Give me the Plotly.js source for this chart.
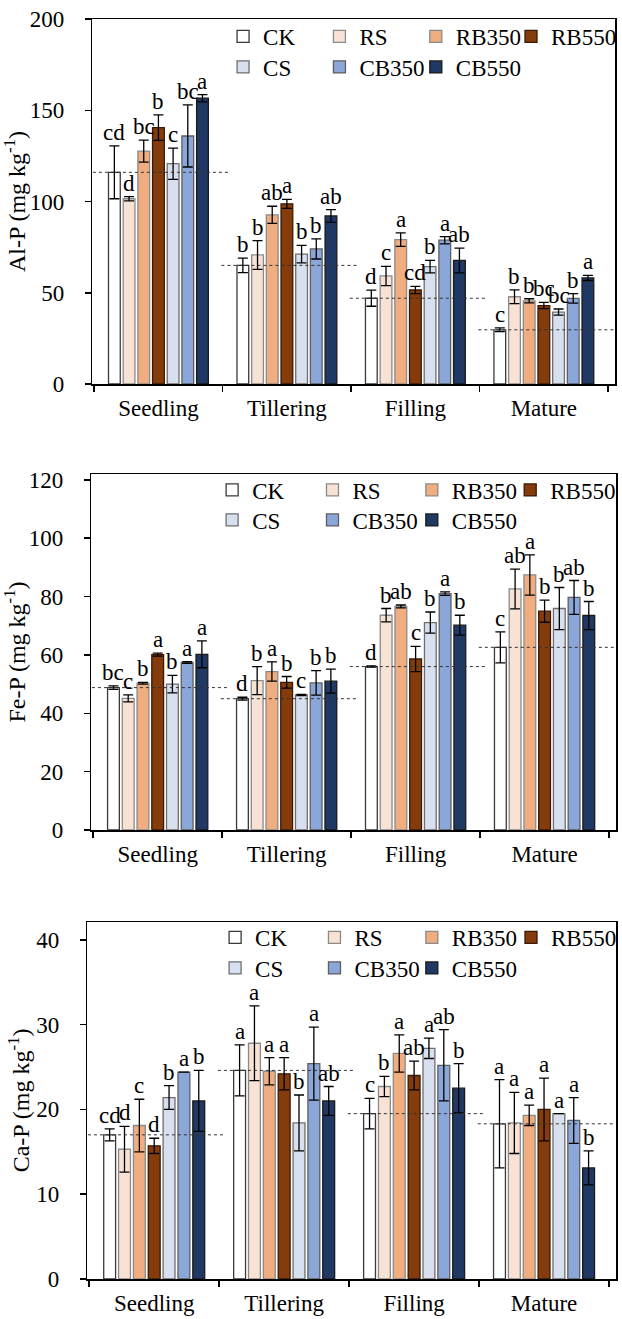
<!DOCTYPE html>
<html>
<head>
<meta charset="utf-8">
<script src="https://cdn.plot.ly/plotly-3.0.1.min.js"></script>
<style>html,body{margin:0;padding:0;background:#fff;}#chart{width:622px;height:1319px;}</style>
</head>
<body>
<div id="chart"></div>
<script>
// ---------- data ----------
const stages = ['Seedling', 'Tillering', 'Filling', 'Mature'];
const treatments = ['CK', 'RS', 'RB350', 'RB550', 'CS', 'CB350', 'CB550'];

// Al-P (mg kg-1): rows = treatments, columns = stages
const alpMean = [
  [116.0, 65.0, 47.0, 29.7],
  [101.5, 70.7, 59.2, 47.8],
  [127.6, 92.7, 79.1, 45.6],
  [140.5, 98.7, 51.5, 43.0],
  [120.7, 71.2, 64.3, 39.4],
  [135.9, 74.0, 78.8, 46.9],
  [156.6, 92.1, 67.7, 58.1]
];
const alpErr = [
  [14.5, 4.0, 4.4, 1.0],
  [1.2, 7.9, 5.3, 3.8],
  [6.0, 4.7, 3.7, 1.1],
  [7.0, 2.5, 2.0, 1.7],
  [8.6, 4.8, 3.4, 1.7],
  [17.0, 5.5, 2.0, 2.6],
  [2.0, 3.5, 6.8, 1.4]
];
const alpLetters = [
  ['cd', 'b', 'd', 'c'],
  ['d', 'b', 'c', 'b'],
  ['bc', 'ab', 'a', 'b'],
  ['b', 'a', 'cd', 'bc'],
  ['c', 'b', 'b', 'bc'],
  ['bc', 'b', 'a', 'b'],
  ['a', 'ab', 'ab', 'a']
];

// Fe-P (mg kg-1)
const fepMean = [
  [48.8, 45.0, 56.0, 62.6],
  [45.1, 51.2, 73.6, 82.6],
  [50.3, 54.3, 76.6, 87.4],
  [60.1, 50.6, 58.6, 75.0],
  [50.0, 46.3, 71.1, 75.9],
  [57.4, 50.4, 81.0, 79.7],
  [60.2, 51.0, 70.2, 73.5]
];
const fepErr = [
  [0.6, 0.5, 0.2, 5.3],
  [1.2, 4.8, 2.3, 6.8],
  [0.3, 3.3, 0.5, 6.9],
  [0.5, 2.0, 4.3, 3.8],
  [3.0, 0.2, 3.6, 7.2],
  [0.3, 4.2, 0.6, 5.8],
  [4.6, 4.1, 3.4, 4.8]
];
const fepLetters = [
  ['bc', 'd', 'd', 'c'],
  ['c', 'b', 'b', 'ab'],
  ['b', 'a', 'ab', 'a'],
  ['a', 'b', 'c', 'b'],
  ['b', 'c', 'b', 'b'],
  ['a', 'b', 'a', 'ab'],
  ['a', 'b', 'b', 'b']
];

// Ca-P (mg kg-1)
const capMean = [
  [17.0, 24.6, 19.5, 18.3],
  [15.3, 27.8, 22.7, 18.4],
  [18.1, 24.5, 26.6, 19.3],
  [15.7, 24.2, 24.0, 20.0],
  [21.4, 18.4, 27.2, 19.5],
  [24.4, 25.4, 25.2, 18.7],
  [21.0, 21.0, 22.5, 13.1]
];
const capErr = [
  [0.7, 3.0, 1.8, 5.2],
  [2.7, 4.4, 1.2, 3.6],
  [3.1, 1.6, 2.2, 1.2],
  [0.9, 1.9, 1.7, 3.7],
  [1.4, 3.3, 1.2, 0.0],
  [0.0, 4.3, 4.2, 2.7],
  [3.6, 1.7, 2.9, 2.0]
];
const capLetters = [
  ['cd', 'a', 'c', 'a'],
  ['d', 'a', 'b', 'a'],
  ['c', 'a', 'a', 'a'],
  ['d', 'a', 'ab', 'a'],
  ['b', 'b', 'a', 'a'],
  ['a', 'a', 'ab', 'a'],
  ['b', 'ab', 'b', 'b']
];

const yTitles = ['Al-P (mg kg<sup>-1</sup>)', 'Fe-P (mg kg<sup>-1</sup>)', 'Ca-P (mg kg<sup>-1</sup>)'];

// ---------- styling ----------
const fillColors = ['#FFFFFF', '#F8E2D3', '#F0AD80', '#843C0C', '#D8DFEF', '#8BA7D9', '#203864'];
const lineColors = ['#3A3A3A', '#8A8A8A', '#8A8A8A', '#3A1A05', '#6E6E6E', '#5E5E5E', '#1A1A1A'];
const FONT = '"Liberation Serif", "Times New Roman", serif';
const FS = 23;
const W = 622, H = 1319;

const panels = [
  {mean: alpMean, err: alpErr, letters: alpLetters, range: [0, 200], dtick: 50,
   px: [93, 619], py: [19, 384],
   legX: [243, 340, 437, 533, 243, 340, 437], legY: [36.5, 67]},
  {mean: fepMean, err: fepErr, letters: fepLetters, range: [0, 122], dtick: 20,
   px: [92, 620], py: [474, 830],
   legX: [232, 333, 433, 532, 232, 333, 433], legY: [490, 520]},
  {mean: capMean, err: capErr, letters: capLetters, range: [0, 42.1], dtick: 10,
   px: [88, 620], py: [922, 1279],
   legX: [235, 335, 433, 533, 235, 335, 433], legY: [937.5, 968]}
];

const traces = [];
const annotations = [];
const shapes = [];
const layout = {
  width: W, height: H,
  margin: {l: 0, r: 0, t: 0, b: 0},
  paper_bgcolor: '#fff', plot_bgcolor: '#fff',
  font: {family: FONT, size: FS, color: '#000'},
  barmode: 'group', bargap: 0.2, bargroupgap: 0.2,
  hovermode: false, showlegend: true,
  annotations: annotations, shapes: shapes
};

panels.forEach((p, k) => {
  const sfx = k === 0 ? '' : String(k + 1);
  const xa = 'x' + sfx, ya = 'y' + sfx;

  treatments.forEach((t, j) => {
    const li = k * treatments.length + j + 1;
    const legName = li === 1 ? 'legend' : 'legend' + li;
    traces.push({
      type: 'bar', name: t, x: stages, y: p.mean[j],
      xaxis: xa, yaxis: ya,
      legend: legName, showlegend: true,
      marker: {color: fillColors[j], line: {color: lineColors[j], width: 1.3}},
      error_y: {type: 'data', array: p.err[j], visible: true, color: '#000', thickness: 1.3, width: 5}
    });
    layout[legName] = {
      visible: true,
      orientation: 'h', xanchor: 'left', yanchor: 'middle',
      x: (p.legX[j] - 18.5) / W, y: (H - p.legY[j < 4 ? 0 : 1]) / H,
      bgcolor: 'rgba(0,0,0,0)', borderwidth: 0,
      font: {family: FONT, size: FS, color: '#000'}
    };
    stages.forEach((s, i) => {
      annotations.push({
        xref: xa, yref: ya,
        x: i - 0.4 + (j + 0.5) * 0.8 / treatments.length,
        y: p.mean[j][i] + p.err[j][i],
        text: p.letters[j][i], showarrow: false,
        xanchor: 'center', yanchor: 'bottom', yshift: -1,
        font: {family: FONT, size: FS, color: '#000'}
      });
    });
  });

  // reference lines at CK level
  stages.forEach((s, i) => {
    shapes.push({
      type: 'line', xref: xa, yref: ya,
      x0: i - 0.51, x1: i + 0.55, y0: p.mean[0][i], y1: p.mean[0][i],
      line: {color: '#333333', width: 1, dash: 'dot'}
    });
  });

  layout['xaxis' + sfx] = {
    domain: [p.px[0] / W, p.px[1] / W], anchor: ya,
    type: 'category', categoryorder: 'array', categoryarray: stages,
    showline: true, linecolor: '#000', linewidth: 1.5, mirror: true,
    ticks: 'outside', ticklen: 6, tickwidth: 1.5, tickcolor: '#000',
    tickson: 'boundaries', ticklabelstandoff: 3,
    showgrid: false, zeroline: false, fixedrange: true,
    tickfont: {family: FONT, size: FS, color: '#000'}
  };
  layout['yaxis' + sfx] = {
    domain: [(H - p.py[1]) / H, (H - p.py[0]) / H], anchor: xa,
    range: p.range, dtick: p.dtick, tick0: 0,
    showline: true, linecolor: '#000', linewidth: 1.5, mirror: true,
    ticks: 'outside', ticklen: 6, tickwidth: 1.5, tickcolor: '#000',
    ticklabelstandoff: 16,
    showgrid: false, zeroline: false, fixedrange: true,
    tickfont: {family: FONT, size: FS, color: '#000'},
    title: {text: yTitles[k], font: {family: FONT, size: 24, color: '#000'}, standoff: 0}
  };
});

Plotly.newPlot('chart', traces, layout, {displayModeBar: false, staticPlot: true});
</script>
</body>
</html>
